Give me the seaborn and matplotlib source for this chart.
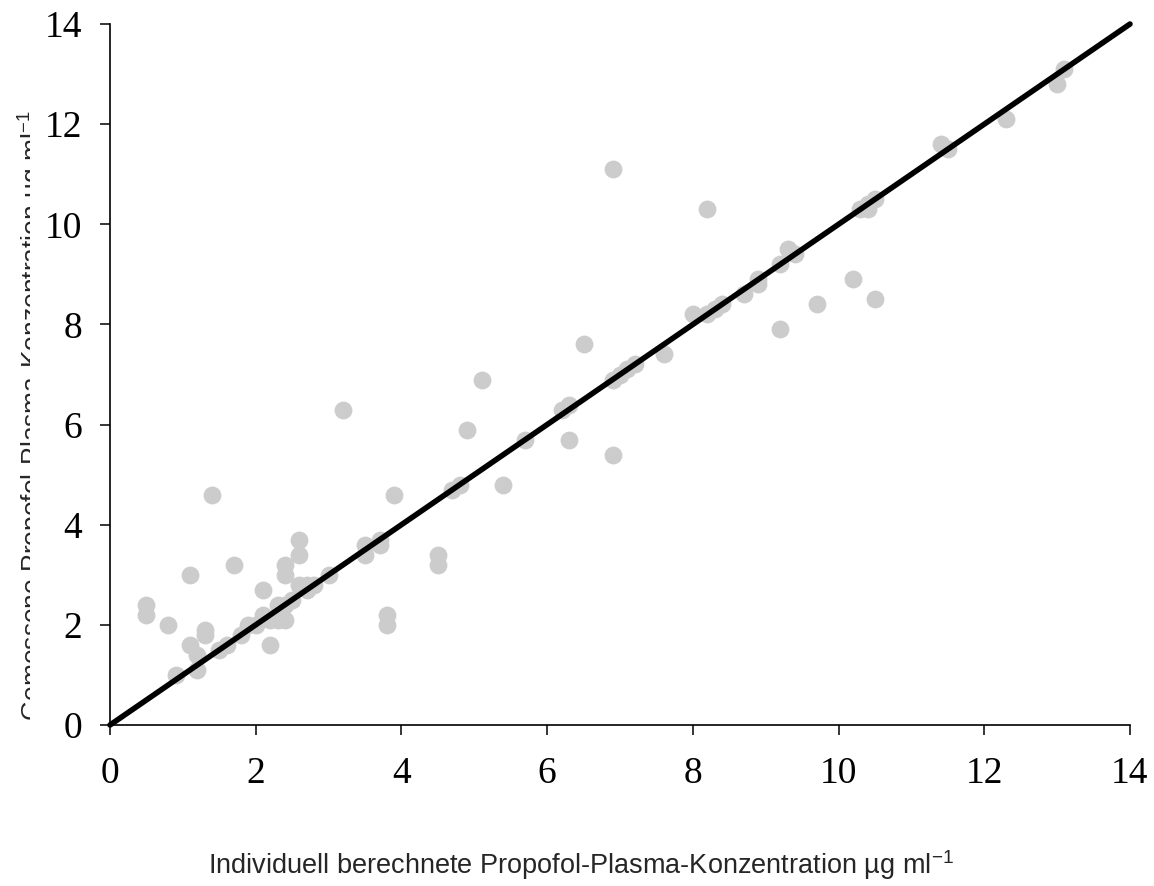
import matplotlib
matplotlib.use("Agg")
import matplotlib.pyplot as plt
import seaborn as sns
import pandas as pd
from matplotlib.transforms import Bbox, TransformedBbox

# berechnete (x) und gemessene (y) Konzentrationen
berechnet = [0.5, 0.5, 0.8, 0.9, 1.1, 1.1, 1.2, 1.2, 1.3, 1.3, 1.4, 1.5, 1.6, 1.7, 1.8,
             1.9, 2.0, 2.1, 2.1, 2.2, 2.2, 2.3, 2.3, 2.4, 2.4, 2.4, 2.4, 2.5, 2.6, 2.6,
             2.6, 2.7, 2.7, 2.8, 3.0, 3.2, 3.5, 3.5, 3.7, 3.7, 3.8, 3.8, 3.9, 4.5, 4.5,
             4.7, 4.8, 4.9, 5.1, 5.4, 5.7, 6.2, 6.3, 6.3, 6.5, 6.9, 6.9, 6.9, 7.0, 7.1,
             7.2, 7.6, 8.0, 8.2, 8.2, 8.3, 8.4, 8.7, 8.9, 8.9, 9.2, 9.2, 9.3, 9.4, 9.7,
             10.2, 10.3, 10.4, 10.4, 10.5, 10.5, 11.4, 11.5, 12.3, 13.0, 13.1]
gemessen = [2.4, 2.2, 2.0, 1.0, 3.0, 1.6, 1.4, 1.1, 1.9, 1.8, 4.6, 1.5, 1.6, 3.2, 1.8,
            2.0, 2.0, 2.7, 2.2, 2.1, 1.6, 2.4, 2.1, 3.2, 3.0, 2.4, 2.1, 2.5, 3.7, 3.4,
            2.8, 2.8, 2.7, 2.8, 3.0, 6.3, 3.6, 3.4, 3.7, 3.6, 2.2, 2.0, 4.6, 3.4, 3.2,
            4.7, 4.8, 5.9, 6.9, 4.8, 5.7, 6.3, 6.4, 5.7, 7.6, 11.1, 6.9, 5.4, 7.0, 7.1,
            7.2, 7.4, 8.2, 10.3, 8.2, 8.3, 8.4, 8.6, 8.9, 8.8, 9.2, 7.9, 9.5, 9.4, 8.4,
            8.9, 10.3, 10.3, 10.4, 10.5, 8.5, 11.6, 11.5, 12.1, 12.8, 13.1]

# Identitaetslinie
linie_x = [0, 14]
linie_y = [0, 14]
ticks = [0, 2, 4, 6, 8, 10, 12, 14]

df = pd.DataFrame({"berechnet": berechnet, "gemessen": gemessen})

sns.set_style("ticks")
plt.rcParams["font.family"] = ["Liberation Serif", "DejaVu Serif"]

fig = plt.figure(figsize=(11.54, 8.86), dpi=100)
ax = fig.add_axes([110 / 1154, 1 - 725 / 886, 1020 / 1154, 701 / 886])

sns.scatterplot(data=df, x="berechnet", y="gemessen", ax=ax, color="#cccccc",
                s=165, linewidth=0, zorder=2)
sns.lineplot(x=linie_x, y=linie_y, ax=ax, color="black", linewidth=4,
             zorder=3, clip_on=False)

ax.set_xlim(0, 14)
ax.set_ylim(0, 14)
ax.set_xticks(ticks)
ax.set_yticks(ticks)
ax.set_xlabel("")
ax.set_ylabel("")
sns.despine(ax=ax)
for sp in ["left", "bottom"]:
    ax.spines[sp].set_linewidth(1.2)
    ax.spines[sp].set_color("black")
ax.tick_params(axis="both", direction="out", length=7, width=1.1, colors="black",
               labelsize=27)
ax.tick_params(axis="x", pad=16)
ax.tick_params(axis="y", pad=13)

# Achsenbeschriftungen
fig.text(581 / 1154, 1 - 865 / 886,
         r"Individuell berechnete Propofol-Plasma-Konzentration µg ml$^{\mathregular{-1}}$",
         ha="center", va="center", fontsize=19.5, family=["Liberation Sans", "DejaVu Sans"])
t = fig.text(32 / 1154, 1 - 416 / 886,
             r"Gemessene Propofol-Plasma-Konzentration µg ml$^{\mathregular{-1}}$",
             ha="center", va="center", rotation=90, fontsize=19,
             family=["Liberation Sans", "DejaVu Sans"])
# Beschriftung ist im Original am rechten Rand abgeschnitten
t.set_clip_box(TransformedBbox(Bbox([[0, 0], [29.5 / 1154, 1]]), fig.transFigure))
t.set_clip_on(True)

fig.savefig("out.png", dpi=100)
